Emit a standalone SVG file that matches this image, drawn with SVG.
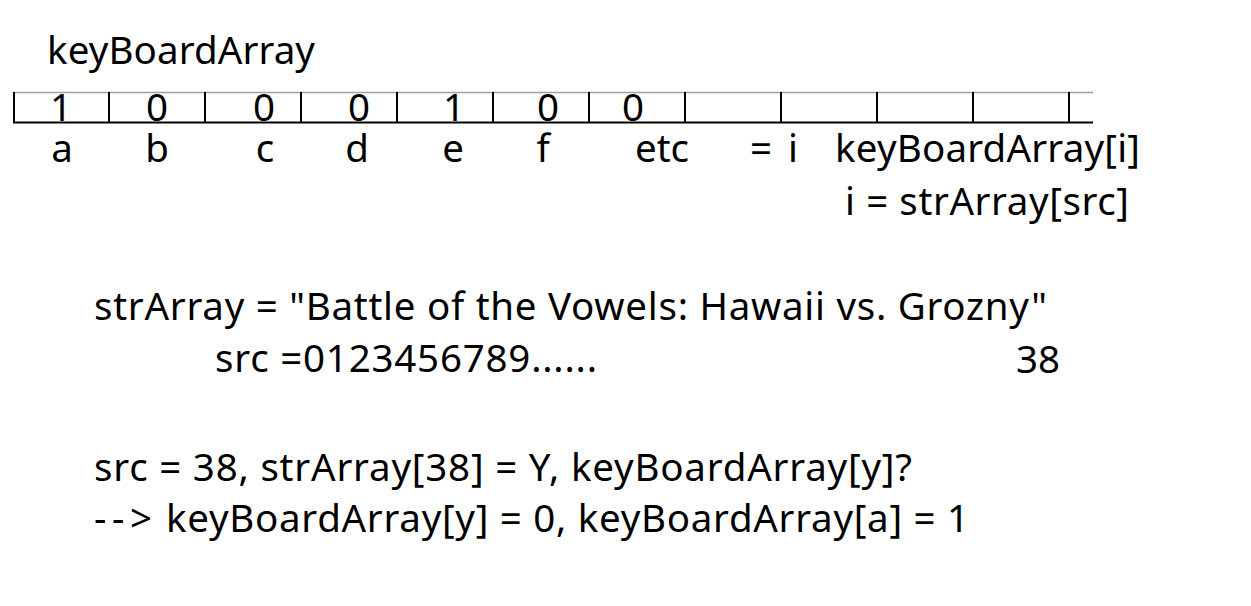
<svg xmlns="http://www.w3.org/2000/svg" width="1251" height="606" viewBox="0 0 1251 606">
<style>
text{font-family:"Noto Sans","Open Sans","Liberation Sans",sans-serif;font-size:38.5px;fill:#000}
.m{text-anchor:middle}
.cell{stroke:#000;stroke-width:2;fill:none}
</style>
<rect width="1251" height="606" fill="#fff"/>
<g id="title"><text x="47" y="64" textLength="268">keyBoardArray</text></g>
<g id="array">
<line x1="13" y1="92.5" x2="1093" y2="92.5" stroke="#a0a0a0" stroke-width="1.5"/>
<line x1="13" y1="122.5" x2="1093" y2="122.5" class="cell"/>
<line x1="14" y1="92" x2="14" y2="123" class="cell"/>
<path class="cell" d="M109 92V123M205 92V123M301 92V123M397 92V123M493 92V123M589 92V123M685 92V123M781 92V123M877 92V123M973 92V123M1069 92V123"/>
<text class="m" x="61" y="121">1</text>
<text class="m" x="157" y="121">0</text>
<text class="m" x="264" y="121">0</text>
<text class="m" x="359" y="121">0</text>
<text class="m" x="454" y="121">1</text>
<text class="m" x="548" y="121">0</text>
<text class="m" x="633" y="121">0</text>
</g>
<g id="labels">
<text class="m" x="62" y="162">a</text>
<text class="m" x="157" y="162">b</text>
<text class="m" x="265" y="162">c</text>
<text class="m" x="357" y="162">d</text>
<text class="m" x="453" y="162">e</text>
<text class="m" x="543" y="162">f</text>
<text class="m" x="662" y="162">etc</text>
<text x="750" y="162" textLength="48">= i</text>
<text x="835" y="162" textLength="305">keyBoardArray[i]</text>
<text x="845" y="215" textLength="284">i = strArray[src]</text>
</g>
<g id="strarray">
<text x="94" y="320" textLength="953">strArray = "Battle of the Vowels: Hawaii vs. Grozny"</text>
<text x="215" y="372" textLength="382">src =0123456789......</text>
<text x="1016" y="373">38</text>
</g>
<g id="result">
<text x="94" y="481" textLength="818">src = 38, strArray[38] = Y, keyBoardArray[y]?</text>
<text y="532"><tspan x="94" textLength="58">--&gt;</tspan> <tspan x="166" textLength="803">keyBoardArray[y] = 0, keyBoardArray[a] = 1</tspan></text>
</g>
</svg>
